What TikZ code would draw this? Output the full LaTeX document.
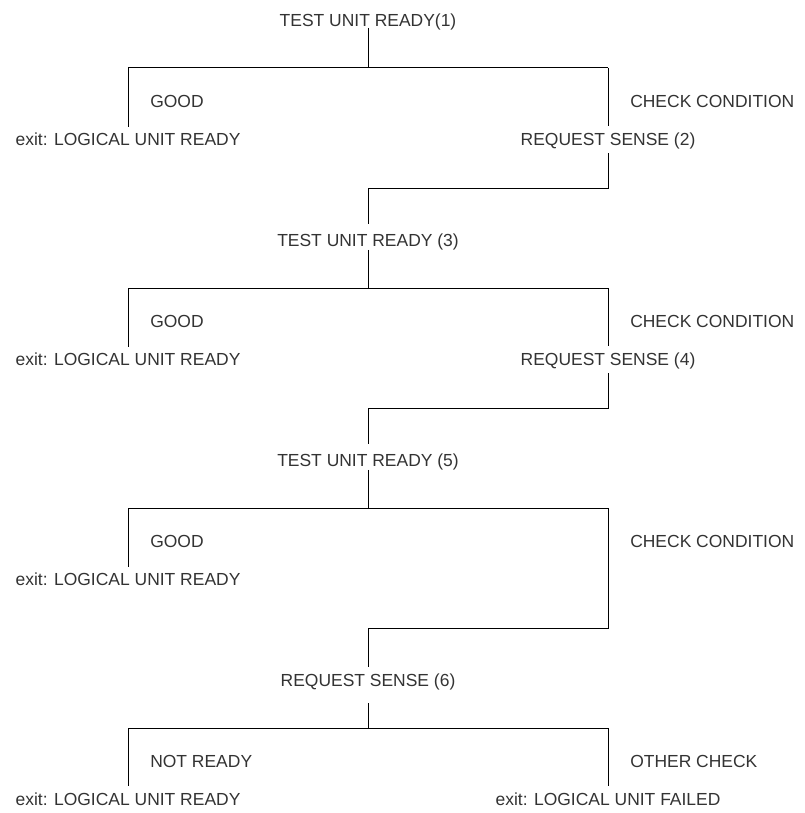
\documentclass[tikz,border=0pt]{standalone}
\usepackage{fontspec}
\setmainfont{Liberation Sans}
\begin{document}
\begin{tikzpicture}[x=0.75pt,y=-0.75pt]
\tikzset{
  lbl/.style={font=\fontsize{13.1}{15}\selectfont, text=black!80, inner sep=0pt, text height=9.4pt, text depth=0pt},
  ctr/.style={lbl, anchor=south},
  lft/.style={lbl, anchor=south west},
  wire/.style={line width=0.75pt, black}
}
\useasboundingbox (0,0) rectangle (805,813);
% block 1
\node[ctr] (t1) at (368,26.5) {TEST UNIT READY(1)};
\coordinate (m1) at (368,68);
\coordinate (l1) at (128,68);
\coordinate (r1) at (608,68);
\node[lft] (g1) at (150,108) {GOOD};
\node[lft] (cc1) at (630,108) {CHECK CONDITION};
\node[ctr] (e1) at (128,146) {exit: LOGICAL UNIT READY};
\node[ctr] (rs2) at (608,146) {REQUEST SENSE (2)};
\coordinate (n1) at (368,188);
% block 2
\node[ctr] (t3) at (368,246.5) {TEST UNIT READY (3)};
\coordinate (m2) at (368,288);
\coordinate (l2) at (128,288);
\coordinate (r2) at (608,288);
\node[lft] (g2) at (150,328) {GOOD};
\node[lft] (cc2) at (630,328) {CHECK CONDITION};
\node[ctr] (e2) at (128,366) {exit: LOGICAL UNIT READY};
\node[ctr] (rs4) at (608,366) {REQUEST SENSE (4)};
\coordinate (n2) at (368,408);
% block 3
\node[ctr] (t5) at (368,466.5) {TEST UNIT READY (5)};
\coordinate (m3) at (368,508);
\coordinate (l3) at (128,508);
\coordinate (r3) at (608,508);
\node[lft] (g3) at (150,548) {GOOD};
\node[lft] (cc3) at (630,548) {CHECK CONDITION};
\node[ctr] (e3) at (128,586) {exit: LOGICAL UNIT READY};
\coordinate (n3) at (368,628);
% block 4
\node[ctr] (rs6) at (368,686.5) {REQUEST SENSE (6)};
\coordinate (m4) at (368,728);
\coordinate (l4) at (128,728);
\coordinate (r4) at (608,728);
\node[lft] (nr) at (150,768) {NOT READY};
\node[lft] (oc) at (630,768) {OTHER CHECK};
\node[ctr] (e4) at (128,806) {exit: LOGICAL UNIT READY};
\node[ctr] (e5) at (608,806) {exit: LOGICAL UNIT FAILED};
% connectors
\draw[wire, shorten <=1.1pt] (t1) -- (m1);
\draw[wire] (l1) -- (r1);
\draw[wire, shorten >=4.1pt] (l1) -- (e1);
\draw[wire, shorten >=5.25pt] (r1) -- (rs2);
\draw[wire, shorten <=5.6pt, shorten >=6.75pt] (rs2) |- (n1) -- (t3);
\draw[wire, shorten <=2.6pt] (t3) -- (m2);
\draw[wire] (l2) -- (r2);
\draw[wire, shorten >=4.1pt] (l2) -- (e2);
\draw[wire, shorten >=5.25pt] (r2) -- (rs4);
\draw[wire, shorten <=5.6pt, shorten >=6.75pt] (rs4) |- (n2) -- (t5);
\draw[wire, shorten <=2.6pt] (t5) -- (m3);
\draw[wire] (l3) -- (r3);
\draw[wire, shorten >=4.1pt] (l3) -- (e3);
\draw[wire, shorten >=4.5pt] (r3) |- (n3) -- (rs6);
\draw[wire, shorten <=12.4pt] (rs6) -- (m4);
\draw[wire] (l4) -- (r4);
\draw[wire, shorten >=4.9pt] (l4) -- (e4);
\draw[wire, shorten >=4.9pt] (r4) -- (e5);
\end{tikzpicture}
\end{document}
